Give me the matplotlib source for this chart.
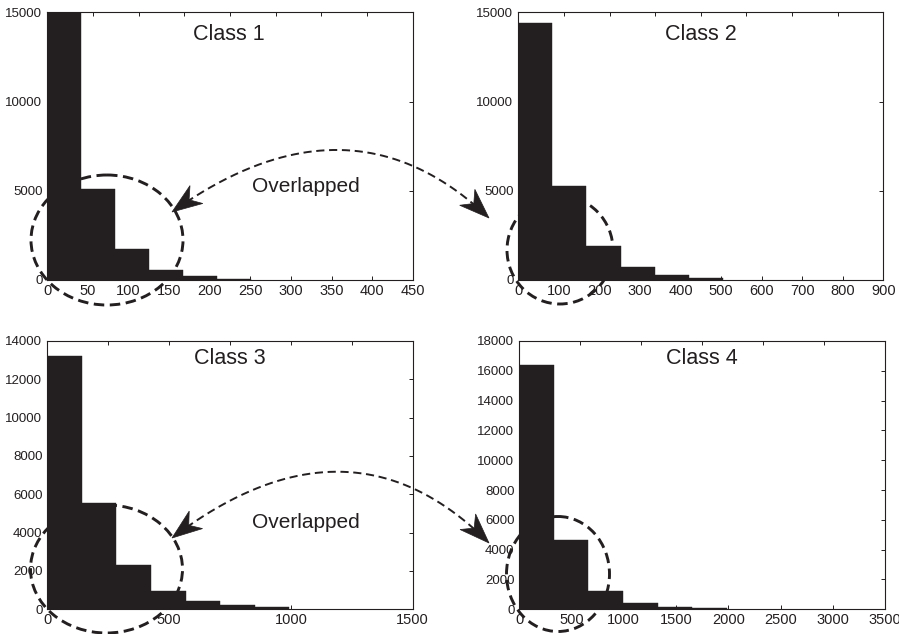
import numpy as np
import matplotlib
matplotlib.use("Agg")
import matplotlib.pyplot as plt
from matplotlib.patches import Ellipse, Polygon

plt.rcParams['font.family'] = ['Liberation Sans', 'DejaVu Sans']

INK = '#231f20'

# Histogram data for the four classes (bin width, counts per bin)
class_names = ['Class 1', 'Class 2', 'Class 3', 'Class 4']
bin_widths = [41.8, 84.0, 142.0, 331.0]
counts_c1 = [17800, 5100, 1740, 560, 220, 60]
counts_c2 = [14380, 5270, 1900, 730, 260, 110]
counts_c3 = [13220, 5550, 2310, 960, 440, 210, 120]
counts_c4 = [16390, 4650, 1230, 425, 160, 70]
all_counts = [counts_c1, counts_c2, counts_c3, counts_c4]

x_limits = [450, 900, 1500, 3500]
x_steps = [50, 100, 500, 500]
y_limits = [15000, 15000, 14000, 18000]
y_steps = [5000, 5000, 2000, 2000]
top_tick_counts = [9, 9, 7, 7]

W, H = 899, 634
fig = plt.figure(figsize=(W / 100, H / 100), dpi=100)

# Axes boxes in pixel units: left, top, right, bottom
boxes = [(47.3, 12.3, 412.7, 280.0),
         (518.3, 12.3, 883.3, 280.0),
         (47.3, 341.0, 412.7, 609.3),
         (519.3, 341.0, 885.0, 609.3)]

axes = []
for i, (l, t, r, b) in enumerate(boxes):
    ax = fig.add_axes([l / W, 1 - b / H, (r - l) / W, (b - t) / H])
    counts = np.array(all_counts[i])
    edges = np.arange(len(counts)) * bin_widths[i]
    ax.bar(edges, counts, width=bin_widths[i], align='edge',
           color=INK, edgecolor=INK, linewidth=0.3)
    ax.set_xlim(0, x_limits[i])
    ax.set_ylim(0, y_limits[i])
    ax.set_xticks(np.arange(0, x_limits[i] + 1, x_steps[i]))
    ax.set_yticks(np.arange(0, y_limits[i] + 1, y_steps[i]))
    ax.tick_params(axis='both', direction='in', length=3, width=0.7,
                   color=INK, labelcolor=INK, right=True, top=False)
    ax.tick_params(axis='x', labelsize=10.5, pad=3)
    ax.tick_params(axis='y', labelsize=9.5, pad=3.5)
    for s in ax.spines.values():
        s.set_linewidth(0.8)
        s.set_color(INK)
    sec = ax.secondary_xaxis('top')
    sec.set_xticks(np.linspace(0, x_limits[i], top_tick_counts[i]))
    sec.tick_params(direction='in', length=3, width=0.7, color=INK,
                    labeltop=False)
    sec.spines['top'].set_visible(False)
    axes.append(ax)

# Overlay in pixel coordinates for annotations
ov = fig.add_axes([0, 0, 1, 1], zorder=10)
ov.set_xlim(0, W)
ov.set_ylim(H, 0)
ov.axis('off')
ov.patch.set_alpha(0)

label_pos = [(229, 35), (701, 35), (230, 359), (702, 359)]
for name, (x, y) in zip(class_names, label_pos):
    ov.text(x, y, name, ha='center', va='center', fontsize=15.5, color=INK)

for y in (186, 522):
    ov.text(306, y, 'Overlapped', ha='center', va='center',
            fontsize=15, color=INK)

# Dashed ellipses marking the overlapping region
ellipses = [((107, 240), 152, 130), ((560, 250), 106, 108),
            ((106.5, 569), 152, 128), ((558, 574), 103, 115)]
for (c, w, h) in ellipses:
    ov.add_patch(Ellipse(c, w, h, fill=False, edgecolor=INK, lw=2.1,
                         linestyle=(0, (3.6, 1.9))))


def arrow_head(tip, direction, length=30, half_w=11, notch=9):
    d = np.asarray(direction, float)
    d = d / np.hypot(*d)
    n = np.array([-d[1], d[0]])
    tip = np.asarray(tip, float)
    back = tip - d * length
    pts = [tip, back + n * half_w, tip - d * (length - notch), back - n * half_w]
    ov.add_patch(Polygon(pts, closed=True, facecolor=INK, edgecolor=INK,
                         lw=0.5))


def curved_arrow(p0, p1, p2):
    p0, p1, p2 = (np.asarray(p, float) for p in (p0, p1, p2))
    t = np.linspace(0, 1, 300)[:, None]
    pts = (1 - t) ** 2 * p0 + 2 * (1 - t) * t * p1 + t ** 2 * p2
    # trim the ends under the arrowheads
    seg = pts[12:-12]
    ov.plot(seg[:, 0], seg[:, 1], color=INK, lw=1.4,
            linestyle=(0, (4.2, 2.4)))
    arrow_head(p0, p0 - p1)
    arrow_head(p2, p2 - p1)


curved_arrow((172, 212), (349.5, 85), (489, 218))
curved_arrow((172, 538), (349.5, 403), (489, 543))

fig.savefig('out.png', dpi=100)
